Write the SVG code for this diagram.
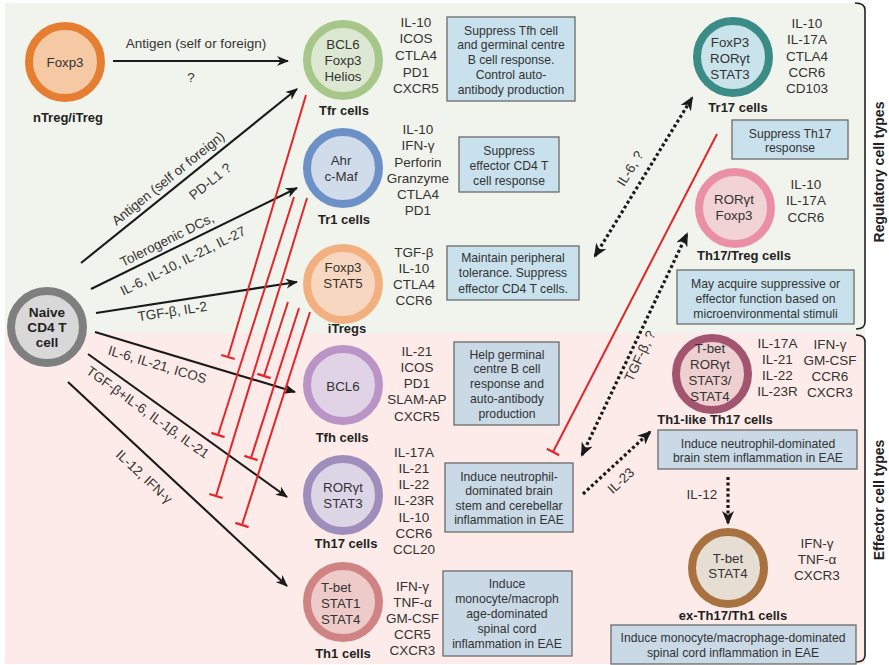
<svg xmlns="http://www.w3.org/2000/svg" width="889" height="665" viewBox="0 0 889 665">
<defs>
<style>
text{font-family:"Liberation Sans",Arial,sans-serif}
.ct{font-size:13.3px;fill:#333;text-anchor:middle}
.lb{font-size:13px;font-weight:bold;fill:#222;text-anchor:middle}
.mk{font-size:13.5px;fill:#333;text-anchor:middle}
.bx{font-size:12.2px;fill:#333;text-anchor:middle}
.al{font-size:13.5px;fill:#333;text-anchor:middle}
.side{font-size:14px;font-weight:bold;fill:#222;text-anchor:middle}
.box{fill:#C8E1EC;stroke:#6a6a6a;stroke-width:1.3}
.box2{fill:#C9D9E6;stroke:#6a6a6a;stroke-width:1.3}
.blk{stroke:#1a1a1a;stroke-width:2.1;fill:none;marker-end:url(#ah)}
.red{stroke:#E3262B;stroke-width:2;fill:none;marker-end:url(#bar)}
.dot{stroke:#1a1a1a;stroke-width:3.2;stroke-dasharray:3 2.6;fill:none;marker-end:url(#dah)}
.dot2{marker-start:url(#dah)}
.ring{stroke-width:8}
.brk{stroke:#222;stroke-width:1.6;fill:none}
</style>
<marker id="ah" markerUnits="userSpaceOnUse" viewBox="0 0 12 10" markerWidth="12" markerHeight="10" refX="11" refY="5" orient="auto">
<path d="M0,0 L12,5 L0,10 L3.5,5 z" fill="#1a1a1a"/>
</marker>
<marker id="dah" markerUnits="userSpaceOnUse" viewBox="0 0 14 12" markerWidth="14" markerHeight="12" refX="12" refY="6" orient="auto-start-reverse">
<path d="M0,0 L14,6 L0,12 L4,6 z" fill="#1a1a1a"/>
</marker>
<marker id="bar" markerUnits="userSpaceOnUse" viewBox="0 0 4 14" markerWidth="4" markerHeight="14" refX="2" refY="7" orient="auto">
<path d="M2,0 L2,14" stroke="#E3262B" stroke-width="2.2"/>
</marker>
</defs>

<g id="background">
<rect x="5" y="3" width="860" height="330" fill="#F1F4EC"/>
<rect x="5" y="333" width="860" height="331" fill="#FCEBE8"/>
</g>

<g id="brackets">
<path class="brk" d="M855,3 Q865,3 865,10 L865,322 Q865,329 856,329"/>
<text class="side" transform="translate(884,172) rotate(-90)">Regulatory cell types</text>
<path class="brk" d="M856,335 Q865,335 865,342 L865,655 Q865,662 856,662"/>
<text class="side" transform="translate(884,500) rotate(-90)">Effector cell types</text>
</g>

<g id="connectors">
<line class="blk" x1="113" y1="61" x2="288" y2="61"/>
<line class="blk" x1="81" y1="263" x2="297" y2="89"/>
<line class="blk" x1="91" y1="289" x2="297" y2="188"/>
<line class="blk" x1="96" y1="313" x2="297" y2="282"/>
<line class="blk" x1="95" y1="332" x2="295" y2="392"/>
<line class="blk" x1="88" y1="354" x2="287" y2="497"/>
<line class="blk" x1="68" y1="382" x2="287" y2="586"/>
<line class="red" x1="306" y1="95" x2="228" y2="357"/>
<line class="red" x1="294" y1="197" x2="218" y2="435"/>
<line class="red" x1="307" y1="198" x2="216" y2="496"/>
<line class="red" x1="288" y1="302" x2="264" y2="376"/>
<line class="red" x1="299" y1="308" x2="251" y2="458"/>
<line class="red" x1="310" y1="312" x2="242" y2="525"/>
<line class="red" x1="717" y1="134" x2="553" y2="452"/>
<line class="dot dot2" x1="595" y1="256" x2="692" y2="98"/>
<line class="dot dot2" x1="582" y1="455" x2="687" y2="234"/>
<line class="dot" x1="583" y1="494" x2="650" y2="432"/>
<line class="dot" x1="728" y1="477" x2="728" y2="523"/>
<text class="al" x="196" y="48">Antigen (self or foreign)</text>
<text class="al" x="191" y="82">?</text>
<text class="al" transform="translate(171,182) rotate(-38.9)">Antigen (self or foreign)</text>
<text class="al" transform="translate(213,185) rotate(-38.9)">PD-L1 ?</text>
<text class="al" transform="translate(169,244) rotate(-26.5)">Tolerogenic DCs,</text>
<text class="al" transform="translate(185,265) rotate(-26.5)">IL-6, IL-10, IL-21, IL-27</text>
<text class="al" transform="translate(173,316) rotate(-8.8)">TGF-β, IL-2</text>
<text class="al" transform="translate(156,369) rotate(16.7)">IL-6, IL-21, ICOS</text>
<text class="al" transform="translate(145,416) rotate(35.7)">TGF-β+IL-6, IL-1β, IL-21</text>
<text class="al" transform="translate(141,480) rotate(43)">IL-12, IFN-γ</text>
<text class="al" transform="translate(634,171) rotate(-58.4)">IL-6, ?</text>
<text class="al" transform="translate(644,358) rotate(-64.6)">TGF-β, ?</text>
<text class="al" transform="translate(624,484) rotate(-43)">IL-23</text>
<text class="al" x="702" y="499">IL-12</text>
</g>

<g id="nTreg">
<circle class="ring" cx="65" cy="62" r="36" fill="#F6C9A5" stroke="#E67E32"/>
<text class="ct" x="65" y="67">Foxp3</text>
<text class="lb" x="68" y="122">nTreg/iTreg</text>
</g>

<g id="naive">
<circle class="ring" cx="47" cy="327" r="36" fill="#D8D8D8" stroke="#7F7F7F"/>
<text class="lb" style="font-size:13.6px" x="47" y="317">Naive</text>
<text class="lb" style="font-size:13.6px" x="47" y="332">CD4 T</text>
<text class="lb" style="font-size:13.6px" x="47" y="347">cell</text>
</g>

<g id="Tfr">
<circle class="ring" cx="343" cy="60" r="36" fill="#DDE8D2" stroke="#A7C68A"/>
<text class="ct" x="343" y="48.5">BCL6</text>
<text class="ct" x="343" y="64.8">Foxp3</text>
<text class="ct" x="343" y="81">Helios</text>
<text class="lb" x="344" y="115">Tfr cells</text>
<text class="mk" x="416" y="26.7">IL-10</text>
<text class="mk" x="416" y="43.3">ICOS</text>
<text class="mk" x="416" y="60">CTLA4</text>
<text class="mk" x="416" y="76.6">PD1</text>
<text class="mk" x="416" y="93.3">CXCR5</text>
<rect class="box" x="447" y="17" width="128" height="84"/>
<text class="bx" x="511" y="34.5">Suppress Tfh cell</text>
<text class="bx" x="511" y="49.2">and germinal centre</text>
<text class="bx" x="511" y="64">B cell response.</text>
<text class="bx" x="511" y="78.7">Control auto-</text>
<text class="bx" x="511" y="93.5">antibody production</text>
</g>

<g id="Tr1">
<circle class="ring" cx="343" cy="168" r="36" fill="#D0DCEA" stroke="#6D91C7"/>
<text class="ct" x="341" y="165">Ahr</text>
<text class="ct" x="341" y="181">c-Maf</text>
<text class="lb" x="344" y="224">Tr1 cells</text>
<text class="mk" x="418" y="134">IL-10</text>
<text class="mk" x="418" y="150">IFN-γ</text>
<text class="mk" x="418" y="167">Perforin</text>
<text class="mk" x="418" y="183">Granzyme</text>
<text class="mk" x="418" y="199">CTLA4</text>
<text class="mk" x="418" y="215">PD1</text>
<rect class="box" x="459" y="137" width="100" height="55"/>
<text class="bx" x="509" y="155">Suppress</text>
<text class="bx" x="509" y="170">effector CD4 T</text>
<text class="bx" x="509" y="185">cell response</text>
</g>

<g id="iTregs">
<circle class="ring" cx="343" cy="284" r="36" fill="#F7D7BF" stroke="#F2B080"/>
<text class="ct" x="343" y="271.5">Foxp3</text>
<text class="ct" x="343" y="288">STAT5</text>
<text class="lb" x="347" y="333">iTregs</text>
<text class="mk" x="414" y="257.3">TGF-β</text>
<text class="mk" x="414" y="273.3">IL-10</text>
<text class="mk" x="414" y="289.3">CTLA4</text>
<text class="mk" x="414" y="305">CCR6</text>
<rect class="box" x="447" y="246" width="132" height="54"/>
<text class="bx" x="513" y="261.5">Maintain peripheral</text>
<text class="bx" x="513" y="277">tolerance. Suppress</text>
<text class="bx" x="513" y="292.5">effector CD4 T cells.</text>
</g>

<g id="Tfh">
<circle class="ring" cx="343" cy="385" r="36" fill="#E0D3E6" stroke="#BA94C6"/>
<text class="ct" x="343" y="391">BCL6</text>
<text class="lb" x="342" y="441.7">Tfh cells</text>
<text class="mk" x="417" y="356">IL-21</text>
<text class="mk" x="417" y="372">ICOS</text>
<text class="mk" x="417" y="388">PD1</text>
<text class="mk" x="417" y="404">SLAM-AP</text>
<text class="mk" x="417" y="421">CXCR5</text>
<rect class="box2" x="454" y="342" width="105" height="83"/>
<text class="bx" x="507" y="358.5">Help germinal</text>
<text class="bx" x="507" y="373.2">centre B cell</text>
<text class="bx" x="507" y="388">response and</text>
<text class="bx" x="507" y="402.7">auto-antibody</text>
<text class="bx" x="507" y="417.5">production</text>
</g>

<g id="Th17">
<circle class="ring" cx="343" cy="495" r="36" fill="#DCD5E6" stroke="#9F8DBC"/>
<text class="ct" x="343" y="492">RORγt</text>
<text class="ct" x="343" y="508">STAT3</text>
<text class="lb" x="346" y="548">Th17 cells</text>
<text class="mk" x="414" y="457">IL-17A</text>
<text class="mk" x="414" y="473">IL-21</text>
<text class="mk" x="414" y="489">IL-22</text>
<text class="mk" x="414" y="505">IL-23R</text>
<text class="mk" x="414" y="522">IL-10</text>
<text class="mk" x="414" y="538">CCR6</text>
<text class="mk" x="414" y="554">CCL20</text>
<rect class="box2" x="445" y="463" width="128" height="69"/>
<text class="bx" x="509" y="480.5">Induce neutrophil-</text>
<text class="bx" x="509" y="495">dominated brain</text>
<text class="bx" x="509" y="509.5">stem and cerebellar</text>
<text class="bx" x="509" y="524">inflammation in EAE</text>
</g>

<g id="Th1">
<circle class="ring" cx="343" cy="602" r="36" fill="#EECAC8" stroke="#CF8483"/>
<text class="ct" style="text-anchor:start" x="321" y="592">T-bet</text>
<text class="ct" style="text-anchor:start" x="321" y="608">STAT1</text>
<text class="ct" style="text-anchor:start" x="321" y="624">STAT4</text>
<text class="lb" x="343" y="658">Th1 cells</text>
<text class="mk" x="412.5" y="591">IFN-γ</text>
<text class="mk" x="412.5" y="607">TNF-α</text>
<text class="mk" x="412.5" y="623">GM-CSF</text>
<text class="mk" x="412.5" y="639">CCR5</text>
<text class="mk" x="412.5" y="655">CXCR3</text>
<rect class="box2" x="443" y="571" width="129" height="85"/>
<text class="bx" x="507" y="587.5">Induce</text>
<text class="bx" x="507" y="602.5">monocyte/macroph</text>
<text class="bx" x="507" y="617.5">age-dominated</text>
<text class="bx" x="507" y="632.5">spinal cord</text>
<text class="bx" x="507" y="647.5">inflammation in EAE</text>
</g>

<g id="Tr17">
<circle class="ring" cx="733" cy="57" r="36" fill="#C9E3EA" stroke="#3B8B87"/>
<text class="ct" x="730" y="47">FoxP3</text>
<text class="ct" x="730" y="63">RORγt</text>
<text class="ct" x="730" y="79">STAT3</text>
<text class="lb" x="738" y="112">Tr17 cells</text>
<text class="mk" x="807" y="28">IL-10</text>
<text class="mk" x="807" y="44">IL-17A</text>
<text class="mk" x="807" y="61">CTLA4</text>
<text class="mk" x="807" y="77">CCR6</text>
<text class="mk" x="807" y="93">CD103</text>
<rect class="box" x="732" y="120" width="116" height="39"/>
<text class="bx" x="790" y="137.5">Suppress Th17</text>
<text class="bx" x="790" y="151.5">response</text>
</g>

<g id="Th17Treg">
<circle class="ring" cx="735" cy="208" r="36" fill="#F1D2D5" stroke="#EB8FA6"/>
<text class="ct" x="734" y="204">RORγt</text>
<text class="ct" x="734" y="220">Foxp3</text>
<text class="lb" x="744" y="260">Th17/Treg cells</text>
<text class="mk" x="806" y="189">IL-10</text>
<text class="mk" x="806" y="205">IL-17A</text>
<text class="mk" x="806" y="222">CCR6</text>
<rect class="box" x="677" y="270" width="177" height="54"/>
<text class="bx" x="765.5" y="287.5">May acquire suppressive or</text>
<text class="bx" x="765.5" y="302.5">effector function based on</text>
<text class="bx" x="765.5" y="317.5">microenvironmental stimuli</text>
</g>

<g id="Th1likeTh17">
<circle class="ring" cx="712" cy="374" r="36" fill="#EDD0CF" stroke="#A35570"/>
<text class="ct" x="710" y="353">T-bet</text>
<text class="ct" x="710" y="369">RORγt</text>
<text class="ct" x="710" y="385">STAT3/</text>
<text class="ct" x="710" y="401">STAT4</text>
<text class="lb" x="715" y="424">Th1-like Th17 cells</text>
<text class="mk" x="777.5" y="348">IL-17A</text>
<text class="mk" x="777.5" y="364">IL-21</text>
<text class="mk" x="777.5" y="380">IL-22</text>
<text class="mk" x="777.5" y="396">IL-23R</text>
<text class="mk" x="830" y="349">IFN-γ</text>
<text class="mk" x="830" y="365">GM-CSF</text>
<text class="mk" x="830" y="381">CCR6</text>
<text class="mk" x="830" y="397">CXCR3</text>
<rect class="box2" x="658" y="430" width="199" height="39"/>
<text class="bx" x="758" y="447.5">Induce neutrophil-dominated</text>
<text class="bx" x="758" y="461.5">brain stem inflammation in EAE</text>
</g>

<g id="exTh17Th1">
<circle class="ring" cx="728" cy="568" r="36" fill="#E7DED3" stroke="#A87140"/>
<text class="ct" x="728" y="563">T-bet</text>
<text class="ct" x="728" y="578">STAT4</text>
<text class="lb" x="733" y="620">ex-Th17/Th1 cells</text>
<text class="mk" x="817" y="548">IFN-γ</text>
<text class="mk" x="817" y="564">TNF-α</text>
<text class="mk" x="817" y="580">CXCR3</text>
<rect class="box2" x="611" y="625" width="245" height="39"/>
<text class="bx" x="733" y="641.5">Induce monocyte/macrophage-dominated</text>
<text class="bx" x="733" y="656.5">spinal cord inflammation in EAE</text>
</g>
</svg>
